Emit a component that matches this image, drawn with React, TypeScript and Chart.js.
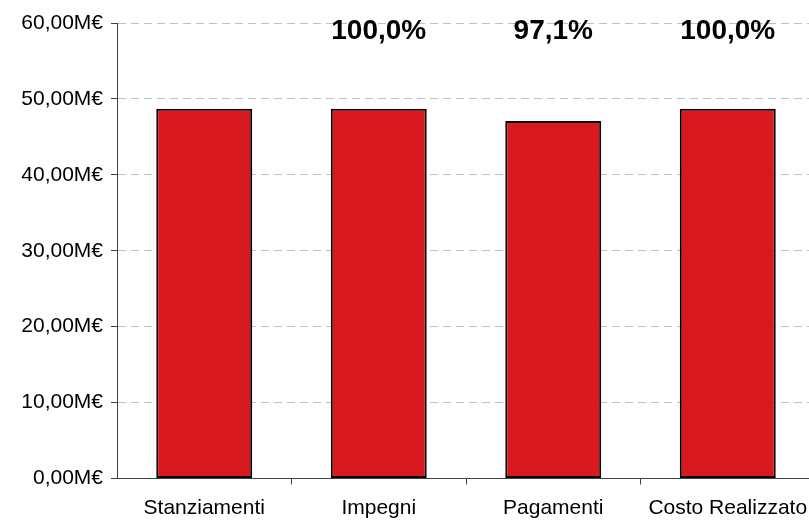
import React, { useEffect, useRef } from "react";
import { Chart, registerables } from "chart.js";

Chart.register(...registerables);

const categories = ["Stanziamenti", "Impegni", "Pagamenti", "Costo Realizzato"];
const values = [48.7, 48.7, 47.1, 48.7];
const pctLabels = ["", "100,0%", "97,1%", "100,0%"];
const yMin = 0;
const yMax = 60;
const yStep = 10;

const pctPlugin = {
  id: "pctLabels",
  afterDatasetsDraw(chart: any) {
    const { ctx, scales } = chart;
    const x = scales.x;
    const y = scales.y;
    ctx.save();
    ctx.font = "bold 28px 'Liberation Sans', Arial, sans-serif";
    ctx.fillStyle = "#000";
    ctx.textAlign = "center";
    ctx.textBaseline = "middle";
    pctLabels.forEach((t, i) => {
      if (!t) return;
      ctx.fillText(t, x.getPixelForValue(i), y.getPixelForValue(58.9));
    });
    ctx.restore();
  },
};

export default function App() {
  const ref = useRef<HTMLCanvasElement>(null);
  useEffect(() => {
    const chart = new Chart(ref.current!, {
      type: "bar",
      data: {
        labels: categories,
        datasets: [
          {
            data: values,
            backgroundColor: "#D81920",
            borderColor: "#000",
            borderWidth: 2,
            borderSkipped: false,
            barPercentage: 0.55,
            categoryPercentage: 1,
          },
        ],
      },
      options: {
        responsive: false,
        animation: false,
        layout: { padding: { top: 23, right: 15, left: 0, bottom: 0 } },
        plugins: { legend: { display: false }, tooltip: { enabled: false } },
        scales: {
          x: {
            afterFit(scale: any) {
              scale.height = 41.5;
            },
            grid: {
              drawOnChartArea: false,
              tickLength: 6,
              tickColor: (c: any) => (c.index === 0 ? "rgba(0,0,0,0)" : "#404040"),
              tickWidth: 1,
              offset: true,
            },
            border: { color: "#404040", width: 1 },
            ticks: {
              color: "#000",
              padding: 11,
              font: { family: "'Liberation Sans', Arial, sans-serif", size: 21 },
              maxRotation: 0,
              autoSkip: false,
            },
          },
          y: {
            min: yMin,
            max: yMax,
            afterFit(scale: any) {
              scale.width = 117;
            },
            grid: {
              color: "#c0c0c0",
              lineWidth: 1,
              tickLength: 6,
              tickColor: "#404040",
              tickWidth: 1,
              tickBorderDash: [],
            },
            border: { color: "#404040", width: 1, dash: [8, 5] },
            ticks: {
              stepSize: yStep,
              color: "#000",
              padding: 8,
              font: { family: "'Liberation Sans', Arial, sans-serif", size: 21 },
              callback: (v: any) => Number(v).toFixed(2).replace(".", ",") + "M€",
            },
          },
        },
      },
      plugins: [pctPlugin],
    });
    return () => chart.destroy();
  }, []);
  return (
    <div style={{ position: "fixed", left: 0, top: 0, width: 809, height: 520, overflow: "hidden", background: "#fff" }}>
      <canvas ref={ref} width={830} height={520} />
    </div>
  );
}
